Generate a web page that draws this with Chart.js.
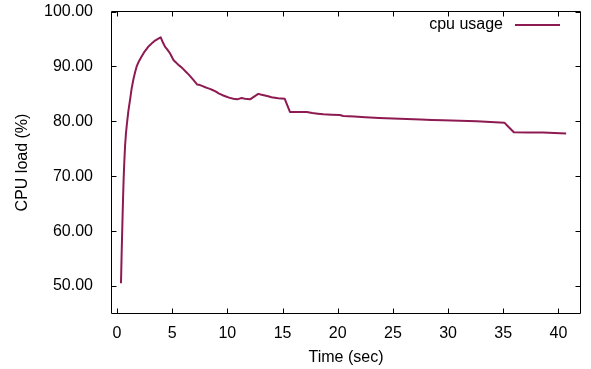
<!DOCTYPE html>
<html>
<head>
<meta charset="utf-8">
<script src="https://cdn.jsdelivr.net/npm/chart.js@4"></script>
<style>
  html, body { margin: 0; padding: 0; background: #fff; }
</style>
</head>
<body>
<canvas id="cpuChart" width="591" height="369"></canvas>
<script>
// averaged cpu load over time
var timeSec = [0.36, 0.42, 0.48, 0.54, 0.60, 0.66, 0.73, 0.81, 0.90, 1.03,
               1.18, 1.32, 1.48, 1.63, 1.78, 2.00, 2.23, 2.50, 2.84, 3.15,
               3.44, 3.70, 3.96, 4.15, 4.35, 4.55, 4.80, 5.10, 5.30, 5.55,
               5.86, 6.15, 6.46, 6.90, 7.27, 7.52, 8.00, 8.42, 8.88, 9.20,
               9.63, 10.10, 10.54, 10.90, 11.30, 11.60, 12.05, 12.80, 13.40, 14.00,
               14.60, 15.20, 15.67, 17.20, 17.70, 18.70, 20.20, 20.50, 22.50, 25.00,
               27.50, 29.55, 32.60, 35.10, 35.96, 38.60, 40.70];
var cpuLoad = [50.5, 56.0, 60.8, 65.5, 69.5, 72.6, 75.5, 77.8, 79.6, 81.9,
               83.9, 85.9, 87.6, 88.9, 90.0, 91.0, 91.8, 92.7, 93.6, 94.2,
               94.7, 95.0, 95.3, 94.4, 93.6, 93.1, 92.4, 91.2, 90.8, 90.3,
               89.8, 89.2, 88.6, 87.6, 86.7, 86.6, 86.2, 85.9, 85.5, 85.1,
               84.7, 84.35, 84.1, 84.0, 84.25, 84.1, 84.0, 85.0, 84.7, 84.4,
               84.2, 84.1, 81.7, 81.7, 81.5, 81.27, 81.16, 80.98, 80.75, 80.5,
               80.32, 80.18, 80.0, 79.76, 78.0, 77.95, 77.8];
var xTicks = [0, 5, 10, 15, 20, 25, 30, 35, 40];
var yTicks = [50, 60, 70, 80, 90, 100];

var lineColor = '#8e1a52';
var fontName = '"Liberation Sans", Arial, sans-serif';

var points = timeSec.map(function (t, i) { return { x: t, y: cpuLoad[i] }; });

// box around the plot, ticks pointing inwards, legend in the top right corner
var framePlugin = {
  id: 'frame',
  afterDraw: function (chart) {
    var ctx = chart.ctx;
    var a = chart.chartArea;
    var sx = chart.scales.x, sy = chart.scales.y;
    var len = 5;
    ctx.save();
    ctx.strokeStyle = '#000';
    ctx.lineWidth = 1;
    ctx.beginPath();
    ctx.rect(a.left, a.top, a.right - a.left, a.bottom - a.top);
    sx.ticks.forEach(function (t) {
      var px = Math.round(sx.getPixelForValue(t.value)) + 0.5;
      ctx.moveTo(px, a.bottom); ctx.lineTo(px, a.bottom - len);
      ctx.moveTo(px, a.top); ctx.lineTo(px, a.top + len);
    });
    sy.ticks.forEach(function (t) {
      var py = Math.round(sy.getPixelForValue(t.value)) + 0.5;
      ctx.moveTo(a.left, py); ctx.lineTo(a.left + len, py);
      ctx.moveTo(a.right, py); ctx.lineTo(a.right - len, py);
    });
    ctx.stroke();

    var ds = chart.data.datasets[0];
    var ly = a.top + 13.5;
    var lineEnd = a.right - 20.5;
    var lineStart = lineEnd - 45;
    ctx.strokeStyle = ds.borderColor;
    ctx.lineWidth = ds.borderWidth;
    ctx.beginPath();
    ctx.moveTo(lineStart, ly); ctx.lineTo(lineEnd, ly);
    ctx.stroke();
    ctx.fillStyle = '#000';
    ctx.font = '16px ' + fontName;
    ctx.textAlign = 'right';
    ctx.textBaseline = 'middle';
    ctx.fillText(ds.label, lineStart - 12, ly);
    ctx.restore();
  }
};

new Chart(document.getElementById('cpuChart').getContext('2d'), {
  type: 'line',
  data: {
    datasets: [{
      label: 'cpu usage',
      data: points,
      borderColor: lineColor,
      backgroundColor: lineColor,
      borderWidth: 2,
      pointRadius: 0,
      // tiny tension keeps Chart.js off its per-pixel fast path on the steep start
      tension: 0.001,
      borderJoinStyle: 'round',
      fill: false
    }]
  },
  options: {
    responsive: false,
    animation: false,
    events: [],
    layout: { padding: { top: 11.5, right: 10.5, left: 0, bottom: 0 } },
    plugins: {
      legend: { display: false },
      tooltip: { enabled: false }
    },
    scales: {
      x: {
        type: 'linear',
        min: -0.5,
        max: 42,
        afterBuildTicks: function (s) { s.ticks = xTicks.map(function (v) { return { value: v }; }); },
        afterFit: function (s) { s.height = 55.5; s.paddingLeft = 0; s.paddingRight = 0; },
        grid: { display: false },
        border: { display: false },
        ticks: {
          color: '#000',
          padding: 2.4,
          maxRotation: 0,
          font: { family: fontName, size: 16 },
          callback: function (v) { return String(v); }
        },
        title: {
          display: true,
          text: 'Time (sec)',
          color: '#000',
          font: { family: fontName, size: 16, lineHeight: 1.2 },
          padding: { top: 0, bottom: 1.6 }
        }
      },
      y: {
        min: 45,
        max: 100,
        afterBuildTicks: function (s) { s.ticks = yTicks.map(function (v) { return { value: v }; }); },
        afterFit: function (s) { s.width = 111.5; s.paddingTop = 0; s.paddingBottom = 0; },
        grid: { display: false },
        border: { display: false },
        ticks: {
          color: '#000',
          padding: 10.5,
          font: { family: fontName, size: 16 },
          callback: function (v) { return Number(v).toFixed(2); }
        },
        title: {
          display: true,
          text: 'CPU load (%)',
          color: '#000',
          font: { family: fontName, size: 16, lineHeight: 1.2 },
          padding: { top: 13.2, bottom: 0 }
        }
      }
    }
  },
  plugins: [framePlugin]
});
</script>
</body>
</html>
